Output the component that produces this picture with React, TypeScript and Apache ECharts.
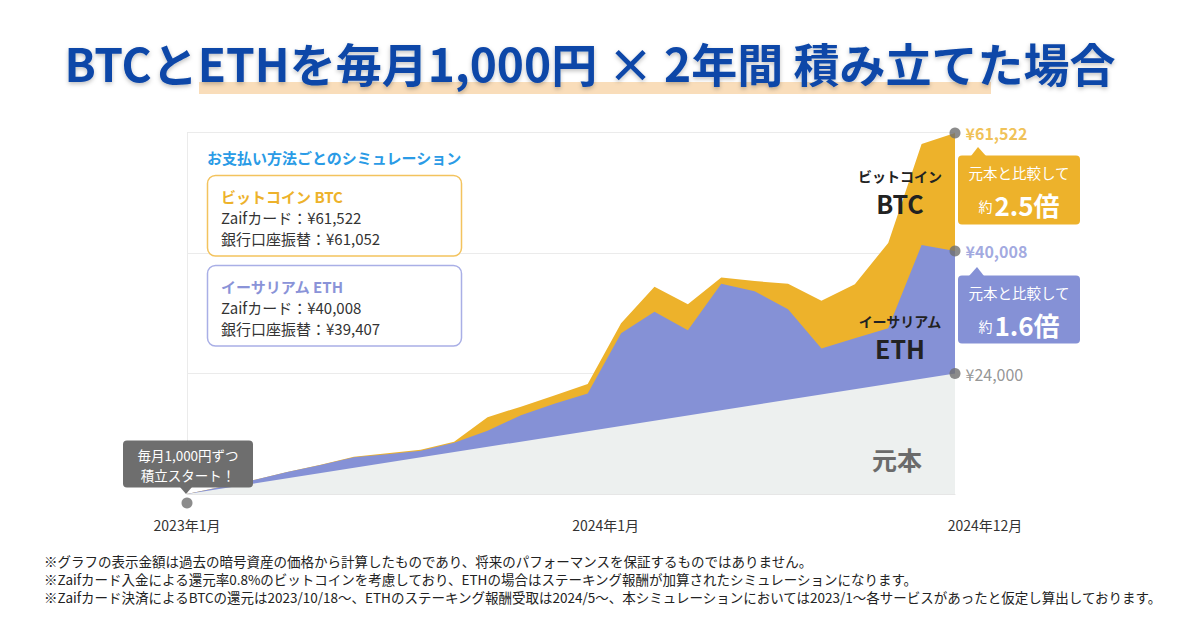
import React, { useEffect, useRef } from "react";
import * as echarts from "echarts";

const FONT = '"Noto Sans CJK JP", "Noto Sans", sans-serif';

// x positions are month indices (0 = 2023年1月 … 23 = 2024年12月)
const xTickIndex = [0, 12, 23];
const xTickLabels = ["2023年1月", "2024年1月", "2024年12月"];

// Values as drawn in the picture (y grid lines every 24,000)
const btcValues = [0, 1400, 2800, 4400, 5850, 7400, 8100, 8800, 10400, 15300, 17400, 19600, 21900, 34000, 41300, 37800, 43100, 42400, 41900, 38500, 41800, 50000, 69700, 71900];
const ethValues = [0, 1400, 2800, 4400, 5800, 7300, 7900, 8600, 10200, 12600, 15700, 18000, 20000, 32000, 36300, 32600, 41900, 40400, 36800, 29000, 31000, 33000, 49600, 48400];
const principalIndex = [0, 23];
const principalValues = [0, 24000];

const endLabels = ["¥61,522", "¥40,008", "¥24,000"];

const titleText = "BTCとETHを毎月1,000円 × 2年間 積み立てた場合";
const legendHeader = "お支払い方法ごとのシミュレーション";
const btcLegend = ["ビットコイン BTC", "Zaifカード：¥61,522", "銀行口座振替：¥61,052"];
const ethLegend = ["イーサリアム ETH", "Zaifカード：¥40,008", "銀行口座振替：¥39,407"];
const ratioTexts = ["元本と比較して", "約", "2.5倍", "1.6倍"];
const startTexts = ["毎月1,000円ずつ", "積立スタート！"];
const notes = [
  "※グラフの表示金額は過去の暗号資産の価格から計算したものであり、将来のパフォーマンスを保証するものではありません。",
  "※Zaifカード入金による還元率0.8%のビットコインを考慮しており、ETHの場合はステーキング報酬が加算されたシミュレーションになります。",
  "※Zaifカード決済によるBTCの還元は2023/10/18〜、ETHのステーキング報酬受取は2024/5〜、本シミュレーションにおいては2023/1〜各サービスがあったと仮定し算出しております。",
];

const GOLD = "#EDB22B";
const PURPLE = "#8591D6";
const PRINCIPAL = "#EDF0EF";

function txt(x: number, y: number, text: string, opts: any = {}) {
  const align = opts.align || "left";
  return {
    type: "text",
    x,
    y,
    z: opts.z || 20,
    style: {
      text,
      fill: opts.fill || "#333",
      fontSize: opts.fontSize || 14,
      fontWeight: opts.fontWeight || "normal",
      fontFamily: FONT,
      lineHeight: opts.lineHeight,
      align,
      textAlign: align,
      verticalAlign: "middle",
      textVerticalAlign: "middle",
      rich: opts.rich,
      textShadowColor: opts.shadowColor,
      textShadowBlur: opts.shadowBlur,
      textShadowOffsetY: opts.shadowOffsetY,
    },
  };
}

export default function App() {
  const ref = useRef<HTMLDivElement>(null);

  useEffect(() => {
    if (!ref.current) return;
    const chart = echarts.init(ref.current, undefined, { renderer: "svg" });

    const lastIdx = btcValues.length - 1;
    const endData = [
      { value: [lastIdx, btcValues[lastIdx]], label: { color: GOLD, fontWeight: "bold" } },
      { value: [lastIdx, ethValues[lastIdx]], label: { color: "#8A93D8", fontWeight: "bold" } },
      { value: [principalIndex[1], principalValues[1]], label: { color: "#7A7A7A", fontWeight: "normal" } },
    ];

    const graphics: any[] = [
      // title
      { type: "rect", z: 1, shape: { x: 199, y: 82, width: 792, height: 12 }, style: { fill: "#F9DDBA" } },
      txt(590, 62, titleText, {
        align: "center", fontSize: 46, fontWeight: "bold", fill: "#0B46A8", z: 2,
        shadowColor: "rgba(0,0,0,0.25)", shadowBlur: 4, shadowOffsetY: 2,
      }),
      // legend panel
      txt(207, 157, legendHeader, { fontSize: 15, fontWeight: "bold", fill: "#2A9BE6" }),
      { type: "rect", z: 15, shape: { x: 207.5, y: 175.5, width: 254, height: 80.5, r: 8 }, style: { fill: "#fff", stroke: "#F3C35E", lineWidth: 1.5 } },
      txt(221, 196, btcLegend[0], { fontSize: 15, fontWeight: "bold", fill: GOLD, lineHeight: 18 }),
      txt(221, 217, btcLegend[1], { fontSize: 15, fill: "#333", lineHeight: 18 }),
      txt(221, 238, btcLegend[2], { fontSize: 15, fill: "#333", lineHeight: 18 }),
      { type: "rect", z: 15, shape: { x: 207.5, y: 265.5, width: 254, height: 80.5, r: 8 }, style: { fill: "#fff", stroke: "#A9AFE6", lineWidth: 1.5 } },
      txt(221, 286, ethLegend[0], { fontSize: 15, fontWeight: "bold", fill: "#8A93D8", lineHeight: 18 }),
      txt(221, 307, ethLegend[1], { fontSize: 15, fill: "#333", lineHeight: 18 }),
      txt(221, 328, ethLegend[2], { fontSize: 15, fill: "#333", lineHeight: 18 }),
      // series names on chart
      txt(900, 176, "ビットコイン", { align: "center", fontSize: 14, fontWeight: "bold", fill: "#222", lineHeight: 16 }),
      txt(900, 203, "BTC", { align: "center", fontSize: 25, fontWeight: "bold", fill: "#222", lineHeight: 26 }),
      txt(900, 321, "イーサリアム", { align: "center", fontSize: 14, fontWeight: "bold", fill: "#222", lineHeight: 16 }),
      txt(900, 348, "ETH", { align: "center", fontSize: 25, fontWeight: "bold", fill: "#222", lineHeight: 26 }),
      txt(897, 459, "元本", { align: "center", fontSize: 25, fontWeight: "bold", fill: "#6B6B6B" }),
      // gold callout
      { type: "rect", z: 15, shape: { x: 958, y: 155.5, width: 122, height: 69, r: 4 }, style: { fill: GOLD } },
      { type: "polygon", z: 15, shape: { points: [[971, 156], [986, 156], [978, 147]] }, style: { fill: GOLD } },
      txt(1019, 172, ratioTexts[0], { align: "center", fontSize: 14.5, fill: "#fff", lineHeight: 16 }),
      txt(1019, 204, `{s|${ratioTexts[1]}}{b|${ratioTexts[2]}}`, {
        align: "center", fill: "#fff",
        rich: {
          s: { fontSize: 14, fill: "#fff", fontFamily: FONT, padding: [4, 2, 0, 0] },
          b: { fontSize: 26, fontWeight: "bold", fill: "#fff", fontFamily: FONT, lineHeight: 28 },
        },
      }),
      // purple callout
      { type: "rect", z: 15, shape: { x: 958, y: 275.5, width: 122, height: 68, r: 4 }, style: { fill: PURPLE } },
      { type: "polygon", z: 15, shape: { points: [[969, 276], [984, 276], [977, 267]] }, style: { fill: PURPLE } },
      txt(1019, 292, ratioTexts[0], { align: "center", fontSize: 14.5, fill: "#fff", lineHeight: 16 }),
      txt(1019, 324, `{s|${ratioTexts[1]}}{b|${ratioTexts[3]}}`, {
        align: "center", fill: "#fff",
        rich: {
          s: { fontSize: 14, fill: "#fff", fontFamily: FONT, padding: [4, 2, 0, 0] },
          b: { fontSize: 26, fontWeight: "bold", fill: "#fff", fontFamily: FONT, lineHeight: 28 },
        },
      }),
      // start callout
      { type: "rect", z: 15, shape: { x: 123, y: 440.5, width: 130, height: 47, r: 4 }, style: { fill: "#6E6E6E" } },
      { type: "polygon", z: 15, shape: { points: [[180, 487], [192, 487], [186, 494]] }, style: { fill: "#6E6E6E" } },
      txt(188, 454.5, startTexts[0], { align: "center", fontSize: 13.5, fill: "#fff", lineHeight: 15 }),
      txt(188, 474.5, startTexts[1], { align: "center", fontSize: 13.5, fill: "#fff", lineHeight: 15 }),
      // notes
      ...notes.map((n, i) => txt(44, 561 + i * 18, n, { fontSize: 13.5, fill: "#222", lineHeight: 16 })),
    ];

    const labelMap: Record<number, string> = {};
    xTickIndex.forEach((ix, i) => (labelMap[ix] = xTickLabels[i]));

    chart.setOption({
      animation: false,
      backgroundColor: "#fff",
      textStyle: { fontFamily: FONT },
      grid: { left: 187, right: 245, top: 132.5, bottom: 136 },
      xAxis: {
        type: "value",
        min: 0,
        max: 23,
        interval: 1,
        axisLine: { show: true, lineStyle: { color: "#E6E6E6", width: 1 } },
        axisTick: { show: false },
        splitLine: { show: false },
        axisLabel: {
          margin: 24,
          fontSize: 14,
          color: "#333",
          fontFamily: FONT,
          formatter: (v: number) => {
            const s = labelMap[v];
            if (!s) return "";
            if (v === xTickIndex[1]) return `{b|${s}}`;
            if (v === xTickIndex[2]) return `{c|${s}}`;
            return `{a|${s}}`;
          },
          rich: {
            a: { fontSize: 14, color: "#333", fontFamily: FONT },
            b: { fontSize: 14, color: "#333", fontFamily: FONT, padding: [0, 0, 0, 36] },
            c: { fontSize: 14, color: "#333", fontFamily: FONT, padding: [0, 0, 0, 60] },
          },
        },
      },
      yAxis: {
        type: "value",
        min: 0,
        max: 72000,
        interval: 24000,
        axisLabel: { show: false },
        axisTick: { show: false },
        axisLine: { show: true, lineStyle: { color: "#EBEBEB" } },
        splitLine: { show: true, lineStyle: { color: "#EBEBEB" } },
      },
      series: [
        {
          type: "line",
          name: "BTC",
          z: 2,
          data: btcValues.map((v, i) => [i, v]),
          symbol: "none",
          lineStyle: { width: 0 },
          areaStyle: { color: GOLD, opacity: 1 },
        },
        {
          type: "line",
          name: "ETH",
          z: 3,
          data: ethValues.map((v, i) => [i, v]),
          symbol: "none",
          lineStyle: { width: 0 },
          areaStyle: { color: PURPLE, opacity: 1 },
        },
        {
          type: "line",
          name: "元本",
          z: 4,
          data: principalValues.map((v, i) => [principalIndex[i], v]),
          symbol: "none",
          lineStyle: { width: 0 },
          areaStyle: { color: PRINCIPAL, opacity: 1 },
        },
        {
          type: "scatter",
          z: 6,
          clip: false,
          symbolSize: 11,
          itemStyle: { color: "#6F6F6F" },
          label: {
            show: true,
            position: "right",
            distance: 5,
            fontSize: 16,
            fontFamily: FONT,
            formatter: (p: any) => endLabels[p.dataIndex],
          },
          data: endData,
        },
        {
          type: "scatter",
          z: 6,
          clip: false,
          symbolSize: 11,
          symbolOffset: [0, 9],
          itemStyle: { color: "#6F6F6F" },
          data: [[principalIndex[0], principalValues[0]]],
        },
      ],
      graphic: graphics,
    });

    return () => chart.dispose();
  }, []);

  return (
    <div
      ref={ref}
      style={{ position: "fixed", left: 0, top: 0, width: 1200, height: 630, background: "#fff" }}
    />
  );
}
